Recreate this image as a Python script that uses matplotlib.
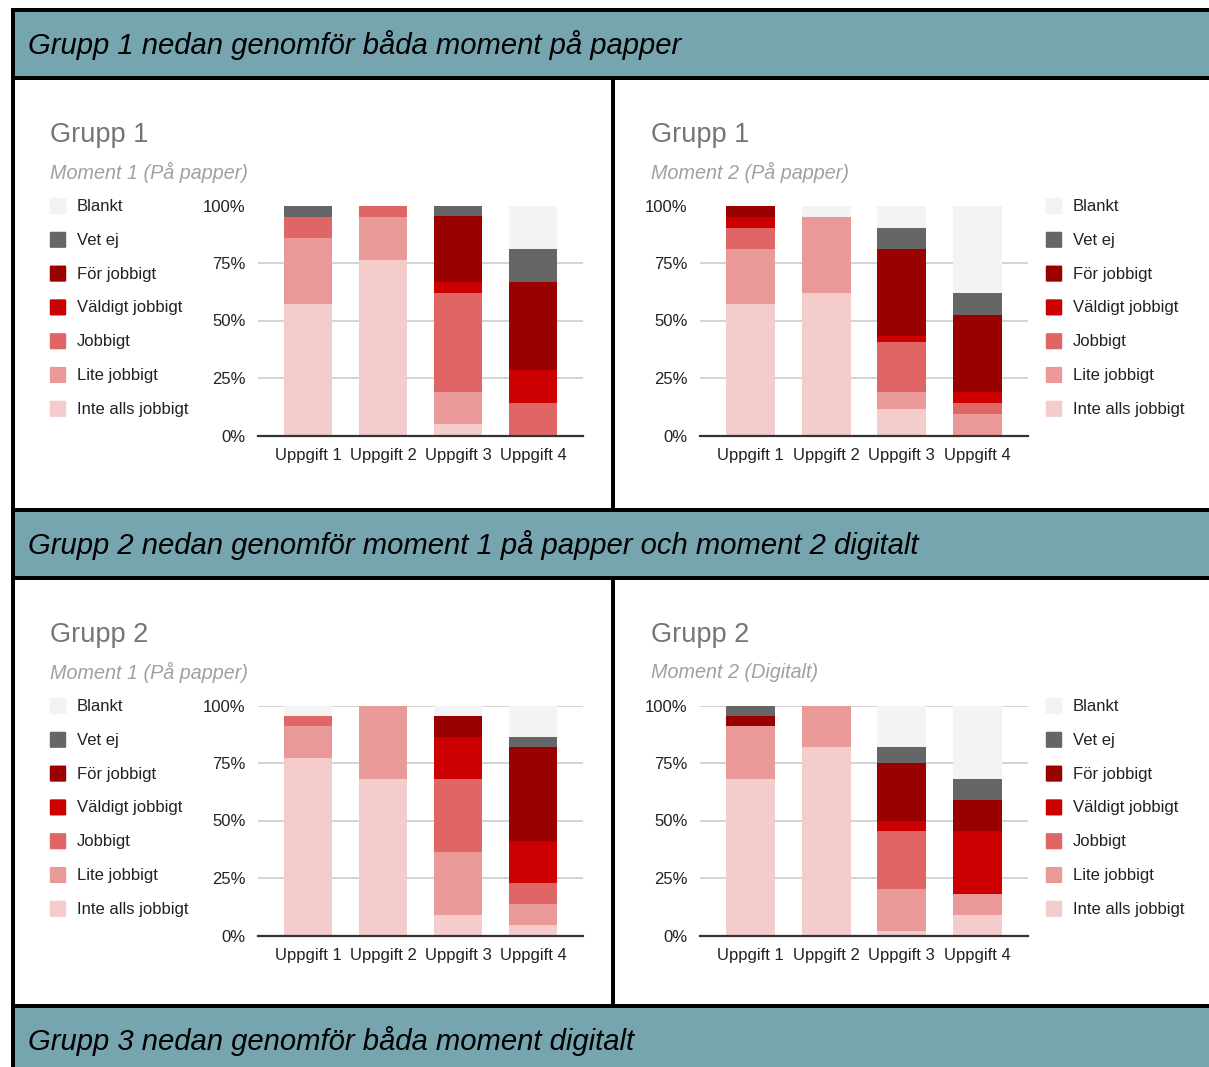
import matplotlib
matplotlib.use("Agg")
import matplotlib.pyplot as plt
from matplotlib.patches import Rectangle, FancyBboxPatch
import numpy as np

plt.rcParams['font.family'] = ['Liberation Sans', 'DejaVu Sans']

W, H = 1209, 1067

# Response categories, stacked from bottom to top
categories = ["Inte alls jobbigt", "Lite jobbigt", "Jobbigt", "Väldigt jobbigt",
              "För jobbigt", "Vet ej", "Blankt"]
colors = ["#f4cccc", "#ea9999", "#e06666", "#cc0000", "#990000", "#666666", "#f3f3f3"]
tasks = ["Uppgift 1", "Uppgift 2", "Uppgift 3", "Uppgift 4"]
yticks_labels = ["0%", "25%", "50%", "75%", "100%"]

# Share of answers (%) per task, one list per category (bottom to top)
g1_m1 = {
    "Inte alls jobbigt": [57.1, 76.2, 4.8, 0.0],
    "Lite jobbigt":      [28.6, 19.0, 14.3, 0.0],
    "Jobbigt":           [9.5, 4.8, 42.9, 14.3],
    "Väldigt jobbigt":   [0.0, 0.0, 4.8, 14.3],
    "För jobbigt":       [0.0, 0.0, 28.6, 38.1],
    "Vet ej":            [4.8, 0.0, 4.8, 14.3],
    "Blankt":            [0.0, 0.0, 0.0, 19.0],
}
g1_m2 = {
    "Inte alls jobbigt": [57.1, 61.9, 11.6, 0.0],
    "Lite jobbigt":      [23.8, 33.3, 7.4, 9.5],
    "Jobbigt":           [9.5, 0.0, 21.6, 4.8],
    "Väldigt jobbigt":   [4.8, 0.0, 2.6, 4.8],
    "För jobbigt":       [4.8, 0.0, 37.9, 33.3],
    "Vet ej":            [0.0, 0.0, 9.3, 9.5],
    "Blankt":            [0.0, 4.8, 9.6, 38.1],
}
g2_m1 = {
    "Inte alls jobbigt": [77.3, 68.2, 9.1, 4.5],
    "Lite jobbigt":      [13.6, 31.8, 27.3, 9.1],
    "Jobbigt":           [4.5, 0.0, 31.8, 9.1],
    "Väldigt jobbigt":   [0.0, 0.0, 18.2, 18.2],
    "För jobbigt":       [0.0, 0.0, 9.1, 40.9],
    "Vet ej":            [0.0, 0.0, 0.0, 4.5],
    "Blankt":            [4.5, 0.0, 4.5, 13.6],
}
g2_m2 = {
    "Inte alls jobbigt": [68.2, 81.8, 1.9, 9.1],
    "Lite jobbigt":      [22.7, 18.2, 18.5, 9.1],
    "Jobbigt":           [0.0, 0.0, 25.2, 0.0],
    "Väldigt jobbigt":   [0.0, 0.0, 4.4, 27.3],
    "För jobbigt":       [4.5, 0.0, 25.1, 13.6],
    "Vet ej":            [4.5, 0.0, 6.7, 9.1],
    "Blankt":            [0.0, 0.0, 18.2, 31.8],
}

banners = ["Grupp 1 nedan genomför båda moment på papper",
           "Grupp 2 nedan genomför moment 1 på papper och moment 2 digitalt",
           "Grupp 3 nedan genomför båda moment digitalt"]

fig = plt.figure(figsize=(W / 100, H / 100), dpi=100)
fig.patch.set_facecolor("white")


def fx(x):
    return x / W


def fy(y):
    return 1 - y / H


def frect(x0, y0, x1, y1, color, z=1):
    fig.patches.append(Rectangle((fx(x0), fy(y1)), fx(x1) - fx(x0), fy(y0) - fy(y1),
                                 transform=fig.transFigure, facecolor=color,
                                 edgecolor="none", zorder=z))


# Banners with section headings
teal = "#76a5af"
banner_spans = [(11, 76), (511, 576), (1007, 1067)]
banner_text_y = [44.5, 544.5, 1041.5]
for (y0, y1), ty, txt in zip(banner_spans, banner_text_y, banners):
    frect(14, y0, W, y1, teal)
    fig.text(fx(28), fy(ty), txt, fontsize=21.1, style="italic",
             color="black", va="center", ha="left")

# Table borders
black = "#000000"
for y0 in (8, 76, 508, 576, 1004):
    frect(11, y0, W, y0 + 3.5, black, z=3)
frect(10.5, 8, 14.5, H, black, z=3)
frect(611, 79, 614.5, 508, black, z=3)
frect(611, 579, 614.5, 1004, black, z=3)


def draw_panel(data, title, subtitle, left_block, top):
    # left_block: True -> legend left of plot; False -> legend right of plot
    if left_block:
        ax_x0, ax_x1 = 258, 583
        leg_x = 50
        title_x = 50
    else:
        ax_x0, ax_x1 = 700, 1028
        leg_x = 1046
        title_x = 651
    y100 = top + 126.5
    y0 = top + 356.5
    fig.text(fx(title_x), fy(top + 55.5), title, fontsize=19.5, color="#757575",
             va="center", ha="left")
    fig.text(fx(title_x), fy(top + 93), subtitle, fontsize=14.2, color="#a0a0a0",
             style="italic", va="center", ha="left")

    ax = fig.add_axes([fx(ax_x0), fy(y0), fx(ax_x1) - fx(ax_x0), fy(y100) - fy(y0)])
    x = np.arange(len(tasks))
    bottom = np.zeros(len(tasks))
    for cat, col in zip(categories, colors):
        vals = np.array(data[cat])
        ax.bar(x, vals, bottom=bottom, width=0.65, color=col, edgecolor="none", zorder=2)
        bottom += vals
    ax.set_xlim(-0.667, 3.667)
    ax.set_ylim(0, 100)
    ax.set_yticks([0, 25, 50, 75, 100])
    ax.set_yticklabels(yticks_labels)
    ax.set_xticks(x)
    ax.set_xticklabels(tasks)
    ax.grid(axis="y", color="#cccccc", linewidth=1.2, zorder=0)
    ax.set_axisbelow(True)
    for s in ("top", "right", "left"):
        ax.spines[s].set_visible(False)
    ax.spines["bottom"].set_color("#333333")
    ax.spines["bottom"].set_linewidth(1.6)
    ax.spines["bottom"].set_zorder(5)
    ax.tick_params(axis="both", length=0, labelsize=12, colors="#222222")
    ax.tick_params(axis="y", pad=9)
    ax.tick_params(axis="x", pad=9)
    ax.patch.set_alpha(0)

    # Legend, top entry first
    spacing = 33.8
    for i, (cat, col) in enumerate(zip(categories[::-1], colors[::-1])):
        cy = y100 + 0.5 + i * spacing
        fig.patches.append(FancyBboxPatch((fx(leg_x + 1), fy(cy + 7)), fx(14), fy(0) - fy(14),
                                          boxstyle="round,pad=0.001",
                                          transform=fig.transFigure, facecolor=col,
                                          edgecolor="none"))
        fig.text(fx(leg_x + 27), fy(cy + 0.5), cat, fontsize=12, color="#222222",
                 va="center", ha="left")


draw_panel(g1_m1, "Grupp 1", "Moment 1 (På papper)", True, 79)
draw_panel(g1_m2, "Grupp 1", "Moment 2 (På papper)", False, 79)
draw_panel(g2_m1, "Grupp 2", "Moment 1 (På papper)", True, 579)
draw_panel(g2_m2, "Grupp 2", "Moment 2 (Digitalt)", False, 579)

fig.savefig("out.png", dpi=100)
